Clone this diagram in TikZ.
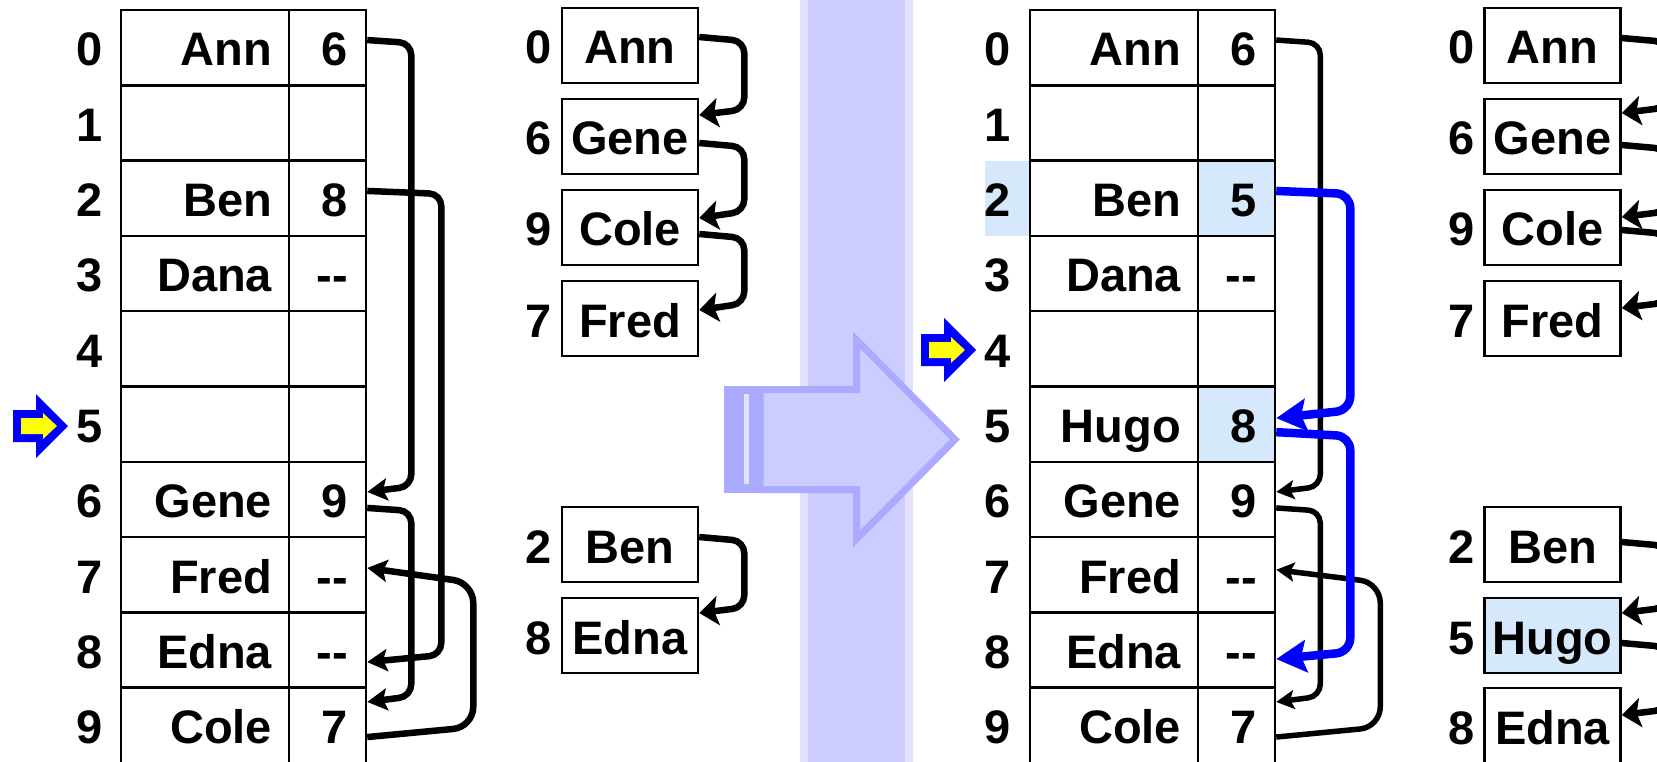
\documentclass[tikz,border=0pt]{standalone}
\usepackage{fontspec}
\setmainfont{Liberation Sans}
\usetikzlibrary{arrows.meta,calc}
\definecolor{hl}{RGB}{214,232,252}
\definecolor{bandin}{RGB}{204,204,255}
\definecolor{bandout}{RGB}{226,226,255}
\definecolor{arrowedge}{RGB}{170,170,255}
\definecolor{ptrblue}{RGB}{0,0,255}
\definecolor{ptryellow}{RGB}{255,255,0}
\newcommand\ptrnone{-\kern0pt-}
\tikzset{
 namecell/.style={draw, line width=2.5pt, minimum width=168pt, minimum height=75.3pt, inner xsep=17pt, inner ysep=0pt, text width=134pt, align=right, text height=40pt, text depth=3.3pt},
 ptrcell/.style={draw, line width=2.5pt, minimum width=77pt, minimum height=75.3pt, inner xsep=18pt, inner ysep=0pt, text width=41pt, align=right, text height=40pt, text depth=3.3pt},
 idx/.style={inner sep=0pt, minimum height=75.3pt, text height=40pt, text depth=3.3pt},
 lbox/.style={draw, line width=2.5pt, minimum width=136pt, minimum height=75pt, inner sep=0pt, text height=40pt, text depth=3pt},
 conna/.style={line width=6.5pt, rounded corners=12pt, -{Stealth[length=20pt,width=22pt,inset=4pt]}},
 connb/.style={line width=5.5pt, rounded corners=12pt, -{Stealth[length=18pt,width=19pt,inset=4pt]}},
 connblue/.style={draw=ptrblue, line width=8.5pt, rounded corners=14pt, -{Stealth[length=30pt,width=32pt,inset=5pt]}},
 connl/.style={line width=6.5pt, rounded corners=12pt, -{Stealth[length=19pt,width=29pt,inset=4pt]}},
 herearrow/.pic={
   \fill[ptrblue] (-55,-16) -- (-32,-16) -- (-32,-32) -- (0,0) -- (-32,32) -- (-32,16) -- (-55,16) -- cycle;
   \fill[ptryellow] (-47,-8) -- (-25,-8) -- (-25,-13) -- (-11,0) -- (-25,13) -- (-25,8) -- (-47,8) -- cycle;
 },
}
\begin{document}
\begin{tikzpicture}[x=1pt, y=-1pt, font=\fontsize{47}{56}\selectfont\bfseries]
\useasboundingbox (0,0) rectangle (1657,762);
\clip (0,0) rectangle (1657,762);
\fill[white] (0,0) rectangle (1657,762);

% separating band and transition arrow
\fill[bandout] (800,0) rectangle (913,762);
\fill[bandin] (808,0) rectangle (905,762);
\fill[arrowedge] (724,386) rectangle (763,493);
\fill[bandout] (744,394) rectangle (749,484);
\draw[line width=7pt, draw=arrowedge, fill=bandin, line join=miter]
  (760,389.5) -- (856.5,389.5) -- (856.5,340) -- (955,439.5) -- (856.5,539) -- (856.5,489.5) -- (760,489.5) -- cycle;

% ---------- table 1 ----------
\foreach \i/\n/\p in {0/Ann/6, 1//, 2/Ben/8, 3/Dana/\ptrnone, 4//, 5//, 6/Gene/9, 7/Fred/\ptrnone, 8/Edna/\ptrnone, 9/Cole/7}{
  \node[idx] (T1i\i) at (90,{47.65+75.3*\i}) {\i};
  \node[namecell] (T1n\i) at (205,{47.65+75.3*\i}) {\n};
  \node[ptrcell] (T1p\i) at (327.5,{47.65+75.3*\i}) {\p};
}
\pic at (68,426) {herearrow};

\draw[conna] ($(T1p0.east)+(0,-7.6)$) -- ++(44,3) -- ($(T1p6.east)+(44,-13)$) -- ($(T1p6.east)+(0,-7.5)$);
\draw[conna] ($(T1p2.east)+(0,-7.3)$) -- ++(74,3) -- ($(T1p8.east)+(74,5)$) -- ($(T1p8.east)+(0,12)$);
\draw[conna] ($(T1p6.east)+(0,8.5)$) -- ++(44,3) -- ($(T1p9.east)+(44,-29)$) -- ($(T1p9.east)+(0,-23.4)$);
\draw[conna, rounded corners=20pt] ($(T1p9.east)+(0,11.7)$) -- ++(106,-10) -- ($(T1p7.east)+(106,8)$) -- ($(T1p7.east)+(0,-6.8)$);

% ---------- list 1 ----------
\foreach \k/\n/\v/\y in {a/Ann/0/45.5, g/Gene/6/136.5, c/Cole/9/227.5, f/Fred/7/318.5, b/Ben/2/544.5, e/Edna/8/635.5}{
  \node[idx, minimum height=75pt, text depth=3pt] (L1i\k) at (539,\y) {\v};
  \node[lbox] (L1\k) at (630,\y) {\n};
}
\draw[connl] ($(L1a.east)+(0,-8.5)$) -- ++(45,4) -- ($(L1g.east)+(45,-27)$) -- ($(L1g.east)+(0,-21.5)$);
\draw[connl] ($(L1g.east)+(0,6.5)$) -- ++(45,4) -- ($(L1c.east)+(45,-16)$) -- ($(L1c.east)+(0,-9.5)$);
\draw[connl] ($(L1c.east)+(0,6.5)$) -- ++(45,4) -- ($(L1f.east)+(45,-15)$) -- ($(L1f.east)+(0,-8.5)$);
\draw[connl] ($(L1b.east)+(0,-7.5)$) -- ++(45,4) -- ($(L1e.east)+(45,-28)$) -- ($(L1e.east)+(0,-22.5)$);

% ---------- table 2 ----------
\fill[hl] (985,160.6) rectangle (1030,235.9);
\foreach \i/\n/\p/\f in {0/Ann/6/white, 1///white, 2/Ben/5/hl, 3/Dana/\ptrnone/white, 4///white, 5/Hugo/8/hl, 6/Gene/9/white, 7/Fred/\ptrnone/white, 8/Edna/\ptrnone/white, 9/Cole/7/white}{
  \node[idx] (T2i\i) at (998,{47.65+75.3*\i}) {\i};
  \node[namecell] (T2n\i) at (1114,{47.65+75.3*\i}) {\n};
  \node[ptrcell, fill=\f] (T2p\i) at (1236.5,{47.65+75.3*\i}) {\p};
}
\pic at (976,350) {herearrow};

\draw[connb] ($(T2p0.east)+(0,-7.6)$) -- ++(44,3) -- ($(T2p6.east)+(44,-13)$) -- ($(T2p6.east)+(0,-7.5)$);
\draw[connb] ($(T2p6.east)+(0,8.5)$) -- ++(44,3) -- ($(T2p9.east)+(44,-29)$) -- ($(T2p9.east)+(0,-23.4)$);
\draw[connb, rounded corners=20pt] ($(T2p9.east)+(0,11.7)$) -- ++(104,-10) -- ($(T2p7.east)+(104,8)$) -- ($(T2p7.east)+(0,-5)$);
\draw[connblue] ($(T2p2.east)+(0,-7.3)$) -- ++(74,3) -- ($(T2p5.east)+(74,-14)$) -- ($(T2p5.east)+(0,-6)$);
\draw[connblue] ($(T2p5.east)+(0,8)$) -- ++(74,4) -- ($(T2p8.east)+(74,2)$) -- ($(T2p8.east)+(0,9)$);

% ---------- list 2 ----------
\foreach \k/\n/\v/\y/\f in {a/Ann/0/45.5/white, g/Gene/6/136.5/white, c/Cole/9/227.5/white, f/Fred/7/318.5/white, b/Ben/2/544.5/white, h/Hugo/5/635.5/hl, e/Edna/8/725.5/white}{
  \node[idx, minimum height=75pt, text depth=3pt] (L2i\k) at (1462,\y) {\v};
  \node[lbox, fill=\f] (L2\k) at (1552.5,\y) {\n};
}
\draw[connl] ($(L2a.east)+(0,-7.5)$) -- ++(45,4) -- ($(L2g.east)+(45,-29)$) -- ($(L2g.east)+(0,-23.5)$);
\draw[connl] ($(L2g.east)+(0,8.5)$) -- ++(45,4) -- ($(L2c.east)+(45,-16)$) -- ($(L2c.east)+(0,-10.5)$);
\draw[connl] ($(L2c.east)+(0,2.5)$) -- ++(45,4) -- ($(L2f.east)+(45,-16)$) -- ($(L2f.east)+(0,-10.5)$);
\draw[connl] ($(L2b.east)+(0,-2.5)$) -- ++(45,4) -- ($(L2h.east)+(45,-28)$) -- ($(L2h.east)+(0,-22.5)$);
\draw[connl] ($(L2h.east)+(0,7.5)$) -- ++(45,4) -- ($(L2e.east)+(45,-16)$) -- ($(L2e.east)+(0,-10.5)$);
\end{tikzpicture}
\end{document}
